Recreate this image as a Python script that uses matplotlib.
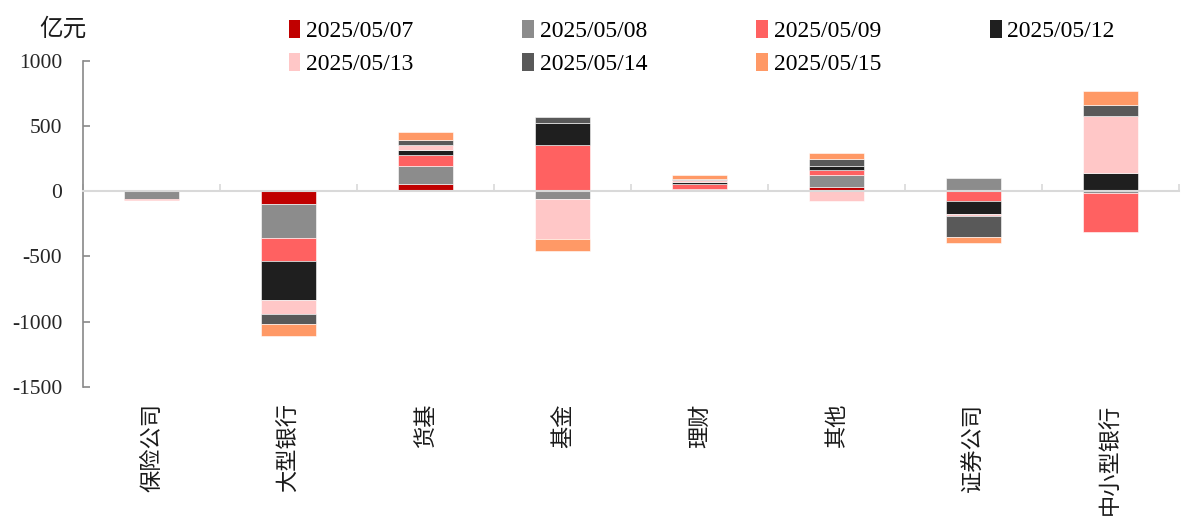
import numpy as np
import matplotlib
matplotlib.use("Agg")
import matplotlib.pyplot as plt
from matplotlib.patches import Patch

plt.rcParams['font.family'] = ['Liberation Serif', 'Noto Sans CJK SC']

# 各机构净买入（亿元）
categories = ["保险公司", "大型银行", "货基", "基金", "理财", "其他", "证券公司", "中小型银行"]
dates = ["2025/05/07", "2025/05/08", "2025/05/09", "2025/05/12",
         "2025/05/13", "2025/05/14", "2025/05/15"]

v_0507 = [5, -97, 54, 0, 0, 34, 0, 0]
v_0508 = [-62, -261, 141, -56, 15, 92, 103, -15]
v_0509 = [-6, -175, 87, 357, 41, 39, -74, -295]
v_0512 = [0, -302, 33, 166, 15, 27, -100, 142]
v_0513 = [0, -108, 44, -308, 15, -77, -15, 438]
v_0514 = [0, -72, 36, 49, 10, 52, -162, 82]
v_0515 = [0, -97, 62, -98, 26, 48, -46, 107]

series = [v_0507, v_0508, v_0509, v_0512, v_0513, v_0514, v_0515]
colors = ["#C00000", "#8C8C8C", "#FF6161", "#1F1F1F", "#FFC7C7", "#595959", "#FF9966"]

fig = plt.figure(figsize=(12.03, 5.25), dpi=100)
ax = fig.add_axes([0.069, 0.2634, 0.911, 0.6204])

x = np.arange(len(categories))
pos_base = np.zeros(len(categories))
neg_base = np.zeros(len(categories))
for vals, c in zip(series, colors):
    v = np.array(vals, dtype=float)
    base = np.where(v >= 0, pos_base, neg_base)
    ax.bar(x, v, bottom=base, width=0.4, color=c, edgecolor="white",
           linewidth=0.4, zorder=3)
    pos_base += np.where(v >= 0, v, 0)
    neg_base += np.where(v < 0, v, 0)

ax.set_xlim(-0.5, len(categories) - 0.5)
ax.set_ylim(-1500, 1000)
ax.set_yticks([1000, 500, 0, -500, -1000, -1500])
ax.set_yticklabels(["1000", "500", "0", "-500", "-1000", "-1500"])

for s in ["top", "right"]:
    ax.spines[s].set_visible(False)
ax.spines["left"].set_color("#898989")
ax.spines["left"].set_linewidth(1.2)
ax.spines["bottom"].set_position(("data", 0))
ax.spines["bottom"].set_color("#D9D9D9")
ax.spines["bottom"].set_linewidth(1.5)
ax.spines["bottom"].set_zorder(4)

ax.tick_params(axis="y", direction="in", length=5, width=1.2, color="#898989",
               labelsize=15.5, labelcolor="#262626", pad=15)
ax.set_xticks(np.arange(len(categories) + 1) - 0.5)
ax.set_xticklabels([])
ax.tick_params(axis="x", direction="in", length=5, width=1.2, color="#D9D9D9")

for i, name in enumerate(categories):
    ax.annotate(name, xy=(i, 0), xycoords=("data", "axes fraction"),
                xytext=(0, -12), textcoords="offset points",
                rotation=90, ha="center", va="top", fontsize=16,
                color="#1A1A1A", family=["Noto Sans CJK SC"])

fig.text(0.033, 0.945, "亿元", fontsize=17, color="#1A1A1A",
         family=["Noto Sans CJK SC"], va="center", ha="left")

# legend reads row by row: reorder for matplotlib's column-wise fill
ncol = 4
nrow = int(np.ceil(len(dates) / ncol))
order = [r * ncol + c for c in range(ncol) for r in range(nrow)
         if r * ncol + c < len(dates)]
handles = [Patch(facecolor=colors[k], edgecolor="none") for k in order]
labels = [dates[k] for k in order]
fig.legend(handles, labels, loc="upper left", bbox_to_anchor=(0.232, 0.98),
           ncol=ncol, frameon=False, fontsize=17, handlelength=0.5,
           handleheight=0.8, handletextpad=0.25, columnspacing=4.6,
           labelspacing=0.45, borderaxespad=0)

fig.savefig("out.png", dpi=100, facecolor="white")
